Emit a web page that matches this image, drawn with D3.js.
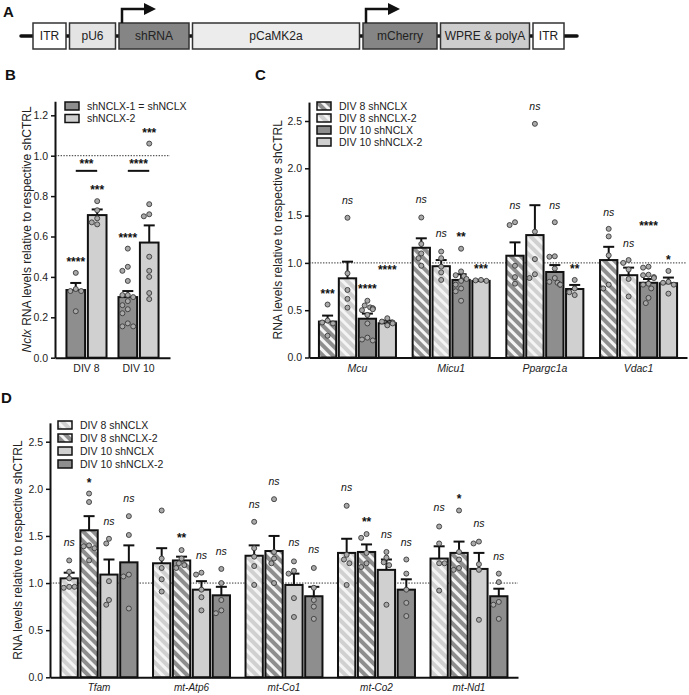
<!DOCTYPE html>
<html><head><meta charset="utf-8">
<script src="https://cdn.jsdelivr.net/npm/d3@7/dist/d3.min.js"></script>
<style>
body{margin:0;background:#fff}
text{font-family:"Liberation Sans",Arial,Helvetica,sans-serif}
</style>
</head><body>
<svg id="fig" width="689" height="695"></svg>
<script>
// ---------------- DATA ----------------
// Panel A: AAV construct
const constructParts = ["ITR","pU6","shRNA","pCaMK2a","mCherry","WPRE & polyA","ITR"];
const constructSizes = [33,46,70,167,74,89,31];
const constructShade = ["white","pale","dark","paler","dark","mid","white"];
const promoterTargets = ["shRNA","mCherry"];

// Panel B
const bGroups = ["DIV 8","DIV 10"];
const bSeries = ["shNCLX-1 = shNCLX","shNCLX-2"];
const bMeans = [[0.335,0.706],[0.30,0.57]];
const bSems  = [[0.035,0.028],[0.030,0.085]];
const bPoints = [
  [[0.42,0.34,0.33,0.33,0.23],[0.775,0.73,0.69,0.67,0.66]],
  [[0.54,0.45,0.43,0.38,0.31,0.31,0.30,0.28,0.26,0.24,0.22,0.17,0.155,0.155],
   [1.06,0.76,0.71,0.70,0.50,0.43,0.40,0.32,0.29]]
];
const bSig = [[["****",0.49],["***",0.845]],[["****",0.607],["***",1.127]]];
const bBracket = [["***",0.925],["****",0.925]];
const bTicks = [0,0.2,0.4,0.6,0.8,1.0,1.2];

// Panel C
const cGenes = ["Mcu","Micu1","Ppargc1a","Vdac1"];
const cSeries = ["DIV 8 shNCLX","DIV 8 shNCLX-2","DIV 10 shNCLX","DIV 10 shNCLX-2"];
const cMeans = [[0.38,0.837,0.41,0.362],[1.16,0.965,0.82,0.81],[1.076,1.294,0.904,0.724],[1.03,0.87,0.79,0.785]];
const cSems  = [[0.063,0.176,0.054,0.028],[0.10,0.065,0.06,0.006],[0.141,0.316,0.073,0.043],[0.14,0.08,0.04,0.06]];
const cPoints = [
  [[0.56,0.39,0.37,0.36,0.23],[1.477,0.89,0.714,0.62,0.527],
   [0.60,0.55,0.53,0.52,0.52,0.51,0.50,0.45,0.36,0.21,0.19,0.18],[0.415,0.38,0.37,0.36,0.34]],
  [[1.48,1.20,1.10,1.05,0.97],[1.12,1.05,0.96,0.90,0.82],
   [1.15,0.91,0.87,0.86,0.83,0.81,0.77,0.73,0.70,0.60],[0.82,0.815,0.81]],
  [[1.43,1.40,0.97,0.85,0.78],[2.47,1.33,1.04,0.88,0.84],
   [1.43,1.065,1.07,0.94,0.84,0.79,0.77,0.77,0.77,0.80],[0.82,0.73,0.69,0.66]],
  [[1.36,1.28,1.08,0.77,0.73],[1.03,1.00,0.93,0.83,0.645],
   [0.96,0.95,0.875,0.87,0.85,0.84,0.78,0.77,0.73,0.63,0.575],[0.915,0.80,0.79,0.77,0.675]]
];
const cSig = [
  [["***",0.707],["ns",1.65],["****",0.756],["****",0.953]],
  [["ns",1.66],["ns",1.30],["**",1.30],["***",0.97]],
  [["ns",1.60],["ns",2.65],["ns",1.60],["**",0.97]],
  [["ns",1.53],["ns",1.20],["****",1.42],["*",1.065]]
];
const cdTicks = [0,0.5,1.0,1.5,2.0,2.5];

// Panel D
const dGenes = ["Tfam","mt-Atp6","mt-Co1","mt-Co2","mt-Nd1"];
const dSeries = ["DIV 8 shNCLX","DIV 8 shNCLX-2","DIV 10 shNCLX","DIV 10 shNCLX-2"];
const dMeans = [[1.05,1.56,1.09,1.22],[1.21,1.24,0.93,0.87],[1.29,1.34,0.98,0.86],[1.32,1.33,1.14,0.93],[1.26,1.32,1.15,0.86]];
const dSems  = [[0.06,0.15,0.16,0.18],[0.16,0.04,0.09,0.09],[0.11,0.16,0.12,0.10],[0.15,0.08,0.11,0.11],[0.13,0.12,0.17,0.08]];
const dPoints = [
  [[1.24,1.12,1.05,0.96,0.95,0.96],[1.95,1.86,1.40,1.39,1.37,1.24],[1.47,1.42,1.02,0.82,0.77],[1.71,1.51,1.09,1.07,0.73]],
  [[1.77,1.26,1.16,1.04,0.91],[1.35,1.26,1.21,1.19,1.16],[1.11,1.09,0.93,0.85,0.71],[1.15,1.00,0.82,0.71,0.68]],
  [[1.65,1.37,1.28,1.18,0.98],[1.89,1.33,1.26,1.21,1.00],[1.23,1.13,1.10,0.84,0.64],[1.16,0.95,0.82,0.75,0.62]],
  [[1.82,1.30,1.25,1.21,0.98],[1.52,1.48,1.32,1.21,1.17],[1.33,1.27,1.22,1.19,0.77],[1.25,1.10,0.93,0.79,0.65]],
  [[1.60,1.42,1.21,1.21,0.92],[1.77,1.33,1.25,1.16,1.14],[1.44,1.42,1.20,1.14,0.61],[1.10,1.01,0.80,0.77,0.62]]
];
const dSig = [
  [["ns",1.42],["*",2.09],["ns",1.65],["ns",1.89]],
  [null,["**",1.51],["ns",1.29],["ns",1.33]],
  [["ns",1.83],["ns",2.07],["ns",1.42],["ns",1.35]],
  [["ns",2.01],["**",1.68],["ns",1.51],["ns",1.42]],
  [["ns",1.79],["*",1.92],["ns",1.63],["ns",1.28]]
];

// ---------------- STYLE ----------------
const DARK = "#8e8e8e", LIGHT = "#d0d0d0", STRIPE = "#f4f4f4", INK = "#111";
const FONT_TICK = 10.5, FONT_LEG = 10.5, FONT_AX = 12, FONT_GRP = 10.5, FONT_NS = 10.5, FONT_AST = 12;

const svg = d3.select("#fig");
svg.append("rect").attr("width",689).attr("height",695).attr("fill","#fff");
const defs = svg.append("defs");
function hatch(id, bg){
  const p = defs.append("pattern").attr("id",id).attr("patternUnits","userSpaceOnUse")
    .attr("width",7).attr("height",7).attr("patternTransform","rotate(-45)");
  p.append("rect").attr("width",7).attr("height",7).attr("fill",bg);
  p.append("rect").attr("width",3).attr("height",7).attr("fill",STRIPE);
}
hatch("hDark", DARK);
hatch("hLight", LIGHT);

function panelLetter(t,x,y){
  svg.append("text").attr("x",x).attr("y",y).attr("font-size",15).attr("font-weight","bold").attr("fill",INK).text(t);
}

// ---------------- PANEL A ----------------
panelLetter("A",3,17);
(function(){
  const g = svg.append("g");
  const shadeFill = {white:"#ffffff", pale:"#e4e4e4", paler:"#ececec", dark:"#858585", mid:"#cdcdcd"};
  const gap = 3.5;
  const total = d3.sum(constructSizes);
  const xs = d3.scaleLinear().domain([0,total]).range([33, 564 - gap*(constructSizes.length-1)]);
  const lineY = 36, top = 23, h = 26;
  g.append("line").attr("x1",21).attr("x2",577).attr("y1",lineY).attr("y2",lineY)
    .attr("stroke","#111").attr("stroke-width",3.5).attr("stroke-linecap","round");
  let cum = 0;
  constructParts.forEach((name,i)=>{
    const x = xs(cum) + gap*i, w = xs(constructSizes[i]) - xs(0);
    cum += constructSizes[i];
    g.append("rect").attr("x",x).attr("y",top).attr("width",w).attr("height",h)
      .attr("fill",shadeFill[constructShade[i]]).attr("stroke","#333").attr("stroke-width",1.5);
    g.append("text").attr("x",x+w/2).attr("y",top+h/2+4.2).attr("text-anchor","middle")
      .attr("font-size",12).attr("fill","#222").text(name);
    if (promoterTargets.includes(name)){
      const ax = x+3;
      g.append("path").attr("d",`M${ax},${top} V9 H${ax+23}`).attr("fill","none")
        .attr("stroke","#111").attr("stroke-width",2.5);
      g.append("path").attr("d",`M${ax+22},3 L${ax+34},9 L${ax+22},15 Z`).attr("fill","#111");
    }
  });
})();

// ---------------- GENERIC BAR PANEL ----------------
function swarm(vals, cx, y, r, half){
  const pts = vals.map(v=>({v, py:y(v), px:cx}));
  const order = pts.slice().sort((a,b)=>a.py-b.py);
  const placed = [];
  const d = 2*r+0.4, s = d/2;
  order.forEach(p=>{
    for (let k=0;k<30;k++){
      const off = k===0 ? 0 : (k%2 ? -1 : 1)*Math.ceil(k/2)*s;
      if (Math.abs(off) > half) continue;
      const px = cx+off;
      if (placed.every(q => Math.hypot(q.px-px, q.py-p.py) >= d)) { p.px = px; break; }
      p.px = px;
    }
    placed.push(p);
  });
  return pts;
}

function drawPanel(c){
  const g = svg.append("g");
  const x0 = d3.scaleBand().domain(c.groups).range(c.xRange).paddingInner(c.pi).paddingOuter(c.po);
  const x1 = d3.scaleBand().domain(c.series).range([0,x0.bandwidth()]).paddingInner(0.13);
  const y = d3.scaleLinear().domain([0,c.yMax]).range(c.yRange);

  // reference line at 1.0
  g.append("line").attr("x1",c.xRange[0]).attr("x2",c.xRange[1]).attr("y1",y(1)).attr("y2",y(1))
    .attr("stroke","#333").attr("stroke-width",1).attr("stroke-dasharray","1.4,1.4");

  const cells = [];
  c.groups.forEach((gr,gi)=>c.series.forEach((se,si)=>{
    cells.push({gi,si,x:x0(gr)+x1(se),w:x1.bandwidth(),cx:x0(gr)+x1(se)+x1.bandwidth()/2,
      mean:c.means[gi][si], sem:c.sems[gi][si], pts:c.points[gi][si], sig:c.sigs?c.sigs[gi][si]:null});
  }));

  g.selectAll("rect.bar").data(cells).join("rect").attr("class","bar")
    .attr("x",d=>d.x).attr("width",d=>d.w).attr("y",d=>y(d.mean)).attr("height",d=>y(0)-y(d.mean))
    .attr("fill",d=>c.fills[d.si]).attr("stroke",INK).attr("stroke-width",2);

  // error bars
  cells.forEach(d=>{
    const yt = y(d.mean+d.sem);
    g.append("line").attr("x1",d.cx).attr("x2",d.cx).attr("y1",y(d.mean)).attr("y2",yt).attr("stroke",INK).attr("stroke-width",2);
    g.append("line").attr("x1",d.cx-5.5).attr("x2",d.cx+5.5).attr("y1",yt).attr("y2",yt).attr("stroke",INK).attr("stroke-width",2);
  });
  // points
  cells.forEach(d=>{
    swarm(d.pts,d.cx,y,2.5,d.w/2-2.5).forEach(p=>{
      g.append("circle").attr("cx",p.px).attr("cy",p.py).attr("r",2.5)
        .attr("fill","#a9a9a9").attr("stroke","#3a3a3a").attr("stroke-width",0.9);
    });
  });
  // significance labels
  cells.forEach(d=>{
    if(!d.sig) return;
    const [t,lev] = d.sig;
    const isNs = t==="ns";
    g.append("text").attr("x",d.cx).attr("y",y(lev)+(isNs?FONT_NS*0.27:FONT_AST*0.58))
      .attr("text-anchor","middle").attr("font-size",isNs?FONT_NS:FONT_AST)
      .attr("font-style",isNs?"italic":"normal").attr("font-weight",isNs?"normal":"bold")
      .attr("fill",INK).text(t);
  });

  // axes
  const ya = g.append("g").attr("transform",`translate(${c.xRange[0]},0)`)
    .call(d3.axisLeft(y).tickValues(c.ticks).tickFormat(d3.format(".1f")).tickSize(4).tickSizeOuter(0).tickPadding(3));
  ya.select(".domain").attr("stroke",INK).attr("stroke-width",2);
  ya.selectAll(".tick line").attr("stroke",INK).attr("stroke-width",1.5);
  ya.selectAll(".tick text").attr("font-size",FONT_TICK).attr("fill","#222").attr("font-family","Liberation Sans, Arial, sans-serif");

  const xa = g.append("g").attr("transform",`translate(0,${y(0)})`)
    .call(d3.axisBottom(x0).tickSize(0).tickSizeOuter(0).tickPadding(7));
  xa.select(".domain").attr("stroke",INK).attr("stroke-width",2);
  xa.selectAll(".tick text").attr("font-size",c.groupFont).attr("fill","#222")
    .attr("font-style",c.groupItalic?"italic":"normal").attr("font-family","Liberation Sans, Arial, sans-serif");

  // y label
  const mid = (c.yRange[0]+y(c.yMax))/2;
  const lab = g.append("text").attr("transform",`translate(${c.labelX},${mid}) rotate(-90)`)
    .attr("text-anchor","middle").attr("font-size",FONT_AX).attr("fill","#222");
  c.label.forEach(([t,it])=>lab.append("tspan").attr("font-style",it?"italic":"normal").text(t));

  // legend
  c.series.forEach((s,i)=>{
    const ly = c.legY + i*c.legStep;
    g.append("rect").attr("x",c.legX).attr("y",ly-4).attr("width",14).attr("height",8)
      .attr("fill",c.fills[i]).attr("stroke",INK).attr("stroke-width",1.5);
    g.append("text").attr("x",c.legX+22).attr("y",ly+3.8).attr("font-size",FONT_LEG).attr("fill","#222").text(s);
  });
  return {g,x0,x1,y};
}

// ---------------- PANEL B ----------------
panelLetter("B",5,80);
const pb = drawPanel({groups:bGroups, series:bSeries, means:bMeans, sems:bSems, points:bPoints, sigs:bSig,
  fills:[DARK,LIGHT], xRange:[55,170], pi:0.23, po:0.22, yRange:[357.7,357.7-1.27*202], yMax:1.27,
  ticks:bTicks, label:[["Nclx",true],[" RNA levels relative to respective shCTRL",false]], labelX:31,
  groupFont:10.5, groupItalic:false, legX:65, legY:106, legStep:12.5});
bGroups.forEach((gr,gi)=>{
  const xa = pb.x0(gr)+pb.x1(bSeries[0])+pb.x1.bandwidth()/2;
  const xb = pb.x0(gr)+pb.x1(bSeries[1])+pb.x1.bandwidth()/2;
  const [t,lev] = bBracket[gi];
  pb.g.append("line").attr("x1",xa).attr("x2",xb).attr("y1",pb.y(lev)).attr("y2",pb.y(lev)).attr("stroke",INK).attr("stroke-width",2);
  pb.g.append("text").attr("x",(xa+xb)/2).attr("y",pb.y(lev)-3).attr("text-anchor","middle")
    .attr("font-size",FONT_AST).attr("font-weight","bold").attr("fill",INK).text(t);
});

// ---------------- PANEL C ----------------
panelLetter("C",255,80);
drawPanel({groups:cGenes, series:cSeries, means:cMeans, sems:cSems, points:cPoints, sigs:cSig,
  fills:["url(#hDark)","url(#hLight)",DARK,LIGHT], xRange:[309,687], pi:0.178, po:0.106,
  yRange:[357.5,357.5-2.7*94.6], yMax:2.7, ticks:cdTicks,
  label:[["RNA levels relative to respective shCTRL",false]], labelX:282,
  groupFont:10.5, groupItalic:true, legX:317, legY:106, legStep:12});

// ---------------- PANEL D ----------------
panelLetter("D",1,403);
drawPanel({groups:dGenes, series:dSeries, means:dMeans, sems:dSems, points:dPoints, sigs:dSig,
  fills:["url(#hLight)","url(#hDark)",LIGHT,DARK], xRange:[50,518], pi:0.168, po:0.114,
  yRange:[677.3,677.3-2.7*94.24], yMax:2.7, ticks:cdTicks,
  label:[["RNA levels relative to respective shCTRL",false]], labelX:22,
  groupFont:10, groupItalic:true, legX:58, legY:425, legStep:13});
</script>
</body></html>
